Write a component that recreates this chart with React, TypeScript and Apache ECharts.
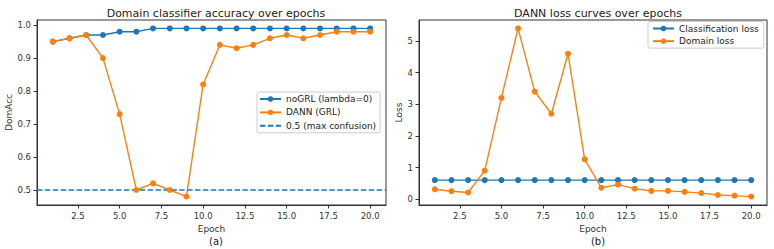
import React, { useEffect, useRef } from "react";
import * as echarts from "echarts";

const epochs = Array.from({ length: 20 }, (_, i) => i + 1);
const noGrlAcc = [0.95, 0.96, 0.97, 0.97, 0.98, 0.98, 0.99, 0.99, 0.99, 0.99, 0.99, 0.99, 0.99, 0.99, 0.99, 0.99, 0.99, 0.99, 0.99, 0.99];
const dannAcc = [0.95, 0.96, 0.97, 0.90, 0.73, 0.50, 0.52, 0.50, 0.48, 0.82, 0.94, 0.93, 0.94, 0.96, 0.97, 0.96, 0.97, 0.98, 0.98, 0.98];
const maxConfusion = 0.5;
const classLoss = [0.6, 0.6, 0.6, 0.6, 0.6, 0.6, 0.6, 0.6, 0.6, 0.6, 0.6, 0.6, 0.6, 0.6, 0.6, 0.6, 0.6, 0.6, 0.6, 0.6];
const domainLoss = [0.31, 0.25, 0.21, 0.9, 3.2, 5.4, 3.4, 2.7, 4.6, 1.26, 0.36, 0.46, 0.33, 0.26, 0.26, 0.23, 0.19, 0.13, 0.11, 0.08];
const xTicks = [2.5, 5.0, 7.5, 10.0, 12.5, 15.0, 17.5, 20.0];
const accTicks = [0.5, 0.6, 0.7, 0.8, 0.9, 1.0];
const lossTicks = [0, 1, 2, 3, 4, 5];

const X_MIN = 0.05, X_MAX = 20.95;
const ACC_MIN = 0.4545, ACC_MAX = 1.0155;
const LOSS_MIN = -0.186, LOSS_MAX = 5.666;

const BLUE = "#1f77b4";
const ORANGE = "#ff7f0e";
const FONT = "DejaVu Sans";
const AX = "#333";

const pair = (ys: number[]) => epochs.map((e, i) => [e, ys[i]]);

function xAxis(gi: number) {
  return {
    type: "value", gridIndex: gi, min: X_MIN, max: X_MAX,
    splitLine: { show: false },
    axisLine: { onZero: false, lineStyle: { color: AX, width: 1 } },
    axisTick: { customValues: xTicks, length: 3.5, lineStyle: { color: AX } },
    axisLabel: { customValues: xTicks, formatter: (v: number) => v.toFixed(1), fontSize: 8.5, color: AX, margin: 6, fontFamily: FONT },
    name: "Epoch", nameLocation: "middle", nameGap: 19,
    nameTextStyle: { fontSize: 9, color: AX, fontFamily: FONT },
  };
}

function yAxis(gi: number, min: number, max: number, ticks: number[], name: string, fmt: (v: number) => string, gap: number) {
  return {
    type: "value", gridIndex: gi, min, max,
    splitLine: { show: false },
    axisLine: { show: true, onZero: false, lineStyle: { color: AX, width: 1 } },
    axisTick: { show: true, customValues: ticks, length: 3.5, lineStyle: { color: AX } },
    axisLabel: { customValues: ticks, formatter: fmt, fontSize: 8.5, color: AX, margin: 6, fontFamily: FONT },
    name, nameLocation: "middle", nameGap: gap,
    nameTextStyle: { fontSize: 9, color: AX, fontFamily: FONT },
  };
}

const lineSeries = (name: string, data: number[], color: string, gi: number) => ({
  type: "line", name, xAxisIndex: gi, yAxisIndex: gi,
  data: pair(data), symbol: "circle", symbolSize: 6,
  lineStyle: { color, width: 1.4 }, itemStyle: { color },
});

const legendBase = {
  orient: "vertical", itemWidth: 21, itemHeight: 7,
  backgroundColor: "rgba(255,255,255,0.85)", borderColor: "#ccc", borderWidth: 1, borderRadius: 2,
  textStyle: { fontSize: 9, color: "#222", fontFamily: FONT, lineHeight: 10 },
};

export default function App() {
  const ref = useRef<HTMLDivElement>(null);
  useEffect(() => {
    const chart = echarts.init(ref.current!, null, { renderer: "svg" });
    chart.setOption({
      animation: false,
      backgroundColor: "#fff",
      textStyle: { fontFamily: FONT },
      title: [
        { text: "Domain classifier accuracy over epochs", left: 211, top: 3, textAlign: "center", textStyle: { fontSize: 11, fontWeight: "normal", color: "#222", fontFamily: FONT } },
        { text: "DANN loss curves over epochs", left: 593, top: 3, textAlign: "center", textStyle: { fontSize: 11, fontWeight: "normal", color: "#222", fontFamily: FONT } },
        { text: "(a)", left: 211, top: 231, textAlign: "center", textStyle: { fontSize: 10, fontWeight: "normal", color: "#222", fontFamily: FONT } },
        { text: "(b)", left: 593, top: 231, textAlign: "center", textStyle: { fontSize: 10, fontWeight: "normal", color: "#222", fontFamily: FONT } },
      ],
      legend: [
        {
          ...legendBase, left: 257, top: 92, itemGap: 3.4, padding: [2, 4, 2, 2],
          data: ["noGRL (lambda=0)", "DANN (GRL)", "0.5 (max confusion)"],
        },
        {
          ...legendBase, left: 648, top: 21.5, itemGap: 2.6, padding: [2, 5, 2, 4],
          data: ["Classification loss", "Domain loss"],
        },
      ],
      grid: [
        { left: 37, top: 20, width: 349, height: 185, show: true, borderColor: AX, borderWidth: 1, backgroundColor: "transparent" },
        { left: 419, top: 20, width: 348, height: 185, show: true, borderColor: AX, borderWidth: 1, backgroundColor: "transparent" },
      ],
      xAxis: [xAxis(0), xAxis(1)],
      yAxis: [
        yAxis(0, ACC_MIN, ACC_MAX, accTicks, "DomAcc", (v: number) => v.toFixed(1), 23),
        yAxis(1, LOSS_MIN, LOSS_MAX, lossTicks, "Loss", (v: number) => String(Math.round(v)), 14),
      ],
      series: [
        lineSeries("noGRL (lambda=0)", noGrlAcc, BLUE, 0),
        lineSeries("DANN (GRL)", dannAcc, ORANGE, 0),
        {
          type: "line", name: "0.5 (max confusion)", xAxisIndex: 0, yAxisIndex: 0,
          data: [[X_MIN, maxConfusion], [X_MAX, maxConfusion]], symbol: "none", showSymbol: false,
          lineStyle: { color: BLUE, width: 1.4, type: [5.5, 2.4] }, itemStyle: { color: BLUE, opacity: 0 },
        },
        lineSeries("Classification loss", classLoss, BLUE, 1),
        lineSeries("Domain loss", domainLoss, ORANGE, 1),
      ],
    });
    return () => chart.dispose();
  }, []);
  return <div ref={ref} style={{ position: "fixed", left: 0, top: 0, width: 774, height: 249 }} />;
}
